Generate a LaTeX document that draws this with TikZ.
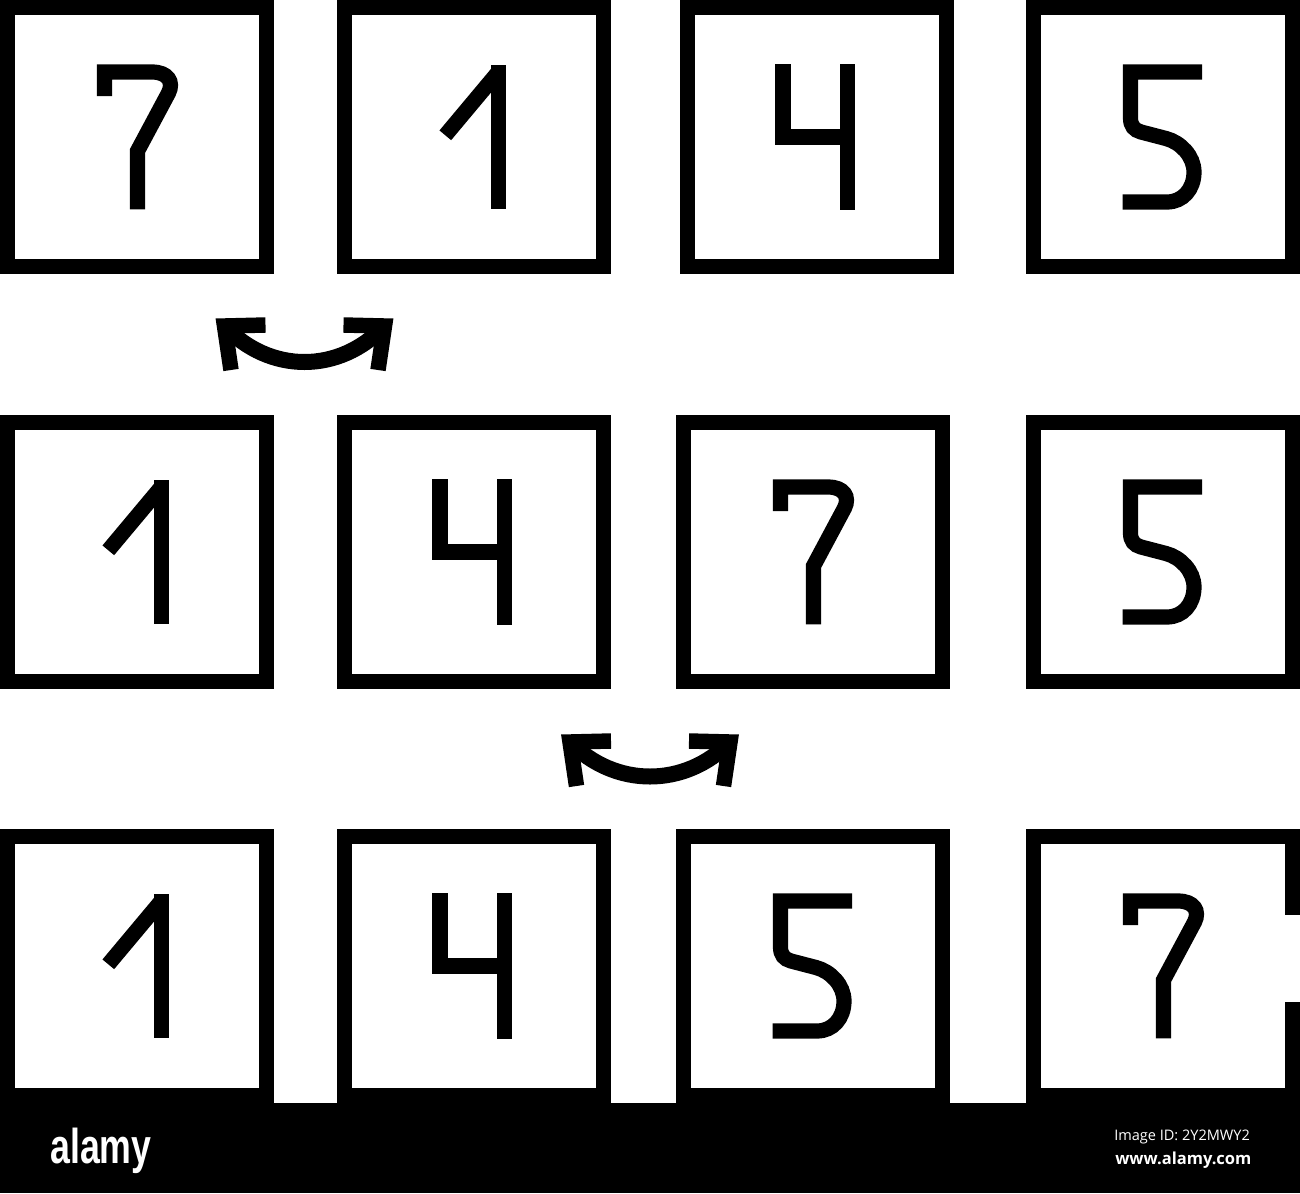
\documentclass[tikz,border=0pt]{standalone}
\usepackage{fontspec}
\usepackage{graphicx}
\newfontfamily\idfont{Open Sans}
\newfontfamily\logofont{Liberation Sans}
\begin{document}
\begin{tikzpicture}[x=0.75pt,y=-0.75pt,
  cell/.style={draw=black,fill=white,line width=11.5pt,rectangle,minimum size=194.25pt,inner sep=0pt,outer sep=0pt},
  digit/.style={draw=black,line width=11.4pt,line cap=butt,line join=miter},
  swaparc/.style={draw=black,line width=12pt},
  barb/.style={draw=black,line width=11.6pt,line join=miter},
  bartext/.style={anchor=base west,inner sep=0pt,text=white},
  pics/seven/.style={code={
    \draw[digit] (104.5,96) -- (104.5,72) -- (152,72)
      .. controls (168,72) and (174,82) .. (168.5,93) -- (137.5,151) -- (137.5,209.3);}},
  pics/one/.style={code={
    \draw[digit] (161.3,65) -- (161.3,209.3);
    \draw[digit] (108.3,135.3) -- (161.3,72);}},
  pics/four/.style={code={
    \draw[digit] (103,64) -- (103,137) -- (168,137);
    \draw[digit] (167.7,64) -- (167.7,209.5);}},
  pics/five/.style={code={
    \draw[digit] (176,72) -- (104.5,72) -- (104.5,118)
      .. controls (104.5,126) and (108,130) .. (115,132) -- (140,138.5)
      .. controls (154.5,142.3) and (168,156) .. (168,172)
      .. controls (168,189) and (157,202) .. (141,202) -- (96.7,202);}}
]
\useasboundingbox (0,0) rectangle (1300,1193);

% row 1
\node[cell] (r1c1) at (137,137) {};  \pic at (0,0) {seven};
\node[cell] (r1c2) at (474,137) {};  \pic at (337,0) {one};
\node[cell] (r1c3) at (817,137) {};  \pic at (680,0) {four};
\node[cell] (r1c4) at (1163,137) {}; \pic at (1026,0) {five};

% row 2
\node[cell] (r2c1) at (137,552) {};  \pic at (0,415) {one};
\node[cell] (r2c2) at (474,552) {};  \pic at (337,415) {four};
\node[cell] (r2c3) at (813,552) {};  \pic at (676,415) {seven};
\node[cell] (r2c4) at (1163,552) {}; \pic at (1026,415) {five};

% row 3
\node[cell] (r3c1) at (137,966) {};  \pic at (0,829) {one};
\node[cell] (r3c2) at (474,966) {};  \pic at (337,829) {four};
\node[cell] (r3c3) at (813,966) {};  \pic at (676,829) {five};
\node[cell] (r3c4) at (1163,966) {}; \pic at (1026,829) {seven};
\fill[white] (1280,915) rectangle (1301,1002);

% swap arrows
\coordinate (s1a) at (224.5,326);
\coordinate (s1b) at (384.5,326);
\draw[swaparc] (s1a) .. controls +(45,48) and +(-45,48) .. (s1b);
\draw[barb] ([shift={(41,-1)}]s1a) -- (s1a) -- ([shift={(6.5,44)}]s1a);
\draw[barb] ([shift={(-41,-1)}]s1b) -- (s1b) -- ([shift={(-6.5,44)}]s1b);

\coordinate (s2a) at (570,742);
\coordinate (s2b) at (730,742);
\draw[swaparc] (s2a) .. controls +(45,46) and +(-45,46) .. (s2b);
\draw[barb] ([shift={(41,-1)}]s2a) -- (s2a) -- ([shift={(6.5,44)}]s2a);
\draw[barb] ([shift={(-41,-1)}]s2b) -- (s2b) -- ([shift={(-6.5,44)}]s2b);

% bottom banner
\fill[black] (0,1103) rectangle (1300,1193);
\node[bartext] (logo) at (50,1163)
  {\scalebox{0.73}[1]{\logofont\bfseries\fontsize{36.7pt}{40pt}\selectfont alamy}};
\node[bartext,font=\idfont\fontsize{10.9pt}{13pt}\selectfont] (imgid) at (1114,1140.7) {Image ID: 2Y2MWY2};
\node[bartext,font=\idfont\bfseries\fontsize{12.4pt}{14pt}\selectfont] (url) at (1115,1164.3) {www.alamy.com};
\end{tikzpicture}
\end{document}
